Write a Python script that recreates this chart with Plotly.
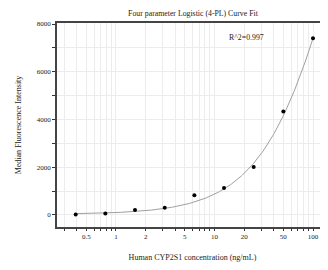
import numpy as np
import plotly.graph_objects as go

# Data
conc = [0.39, 0.78, 1.56, 3.125, 6.25, 12.5, 25, 50, 100]
mfi = [20, 60, 210, 305, 825, 1130, 2010, 4330, 7400]

# 4PL fit parameters (bottom, hill slope, EC50, top)
fit_a, fit_b, fit_c, fit_d = 30.0, 1.08, 224.0, 25000.0
r2_text = "R^2=0.997"

x_ticks = [0.3, 0.4, 0.5, 0.6, 0.7, 0.8, 0.9, 1, 2, 3, 4, 5, 6, 7, 8, 9,
           10, 20, 30, 40, 50, 60, 70, 80, 90, 100]
x_labels = {0.5: "0.5", 1: "1", 2: "2", 5: "5", 10: "10", 20: "20", 50: "50", 100: "100"}

xs = np.logspace(np.log10(conc[0]), np.log10(conc[-1]), 300)
ys = fit_d + (fit_a - fit_d) / (1 + (xs / fit_c) ** fit_b)

font = "Liberation Serif"
fig = go.Figure()
fig.add_trace(go.Scatter(x=xs, y=ys, mode="lines",
                         line=dict(color="#a0a0a0", width=1), hoverinfo="skip"))
fig.add_trace(go.Scatter(x=conc, y=mfi, mode="markers",
                         marker=dict(color="black", size=4)))

fig.update_layout(
    width=320, height=262,
    margin=dict(l=49, r=0, t=15, b=43),
    paper_bgcolor="white", plot_bgcolor="white",
    showlegend=False,
    font=dict(family=font, size=7, color="#222"),
    title=dict(text="Four parameter Logistic (4-PL) Curve Fit", x=0.578, xanchor="center",
               y=0.981, yanchor="middle", font=dict(family=font, size=7.8, color="#222")),
    annotations=[dict(text=r2_text, x=0.701, y=0.931, xref="paper", yref="paper",
                      xanchor="center", yanchor="middle", showarrow=False,
                      font=dict(family=font, size=7.8, color="#222"))],
)
fig.update_xaxes(
    type="log", range=[np.log10(0.252), np.log10(142)],
    tickvals=x_ticks, ticktext=[x_labels.get(v, "") for v in x_ticks],
    ticks="outside", ticklen=2, tickcolor="#333",
    showgrid=True, gridcolor="#ececec", gridwidth=1,
    showline=True, linecolor="#444", linewidth=1.5, mirror=True,
    zeroline=False,
    title=dict(text="Human CYP2S1 concentration (ng/mL)", standoff=14,
               font=dict(family=font, size=8, color="#222")),
)
fig.update_yaxes(
    range=[-503, 8042],
    tickvals=[0, 1000, 2000, 3000, 4000, 5000, 6000, 7000, 8000],
    ticktext=["0", "", "2000", "", "4000", "", "6000", "", "8000"],
    ticks="outside", ticklen=3, tickcolor="#333",
    showgrid=True, gridcolor="#ececec", gridwidth=1,
    showline=True, linecolor="#444", linewidth=1.5, mirror=False,
    zeroline=False,
    title=dict(text="Median Fluorescence Intensity", standoff=14,
               font=dict(family=font, size=8, color="#222")),
)
fig.write_html("out.html")
